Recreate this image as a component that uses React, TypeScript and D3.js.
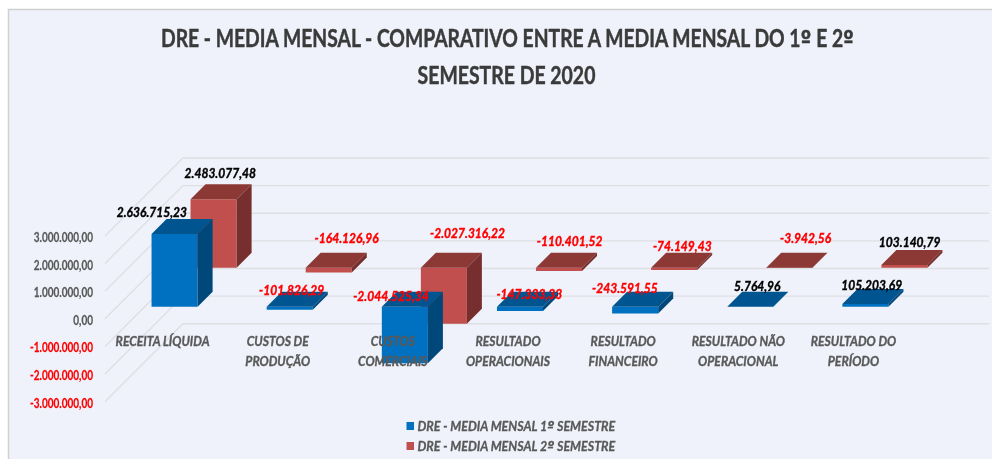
import React from "react";
import * as d3 from "d3";

const categories = [
  ["RECEITA LÍQUIDA"],
  ["CUSTOS DE", "PRODUÇÃO"],
  ["CUSTOS", "COMERCIAIS"],
  ["RESULTADO", "OPERACIONAIS"],
  ["RESULTADO", "FINANCEIRO"],
  ["RESULTADO NÃO", "OPERACIONAL"],
  ["RESULTADO DO", "PERÍODO"],
];
const seriesNames = ["DRE - MEDIA MENSAL 1º SEMESTRE", "DRE - MEDIA MENSAL 2º SEMESTRE"];
const semester1 = [2636715.23, -101826.29, -2044525.34, -147333.33, -243591.55, 5764.96, 105203.69];
const semester2 = [2483077.48, -164126.96, -2027316.22, -110401.52, -74149.43, -3942.56, 103140.79];
const yTicks = [3000000, 2000000, 1000000, 0, -1000000, -2000000, -3000000];
const titleLines = ["DRE - MEDIA MENSAL - COMPARATIVO ENTRE A MEDIA MENSAL DO 1º E 2º", "SEMESTRE DE 2020"];

// hand-placed data label nudges (as in the original chart)
const nudge1 = [[-22.7, -22.3], [1.9, -17.4], [-13.9, -11], [9.3, -13], [-10.2, -19.7], [7, -21.5], [6.3, -19.8]];
const nudge2 = [[6.7, -26.3], [17.9, -30.3], [23.7, -35.3], [10.6, -27.3], [8.1, -22.6], [16.3, -30.3], [5.2, -23.2]];

const palette = [
  { front: "#0070C0", top: "#005590", side: "#00467A" },
  { front: "#C0504D", top: "#8C3836", side: "#772F2D" },
];

const pt = d3.formatLocale({ decimal: ",", thousands: ".", grouping: [3], currency: ["R$", ""], minus: "-" });
const fmt = pt.format(",.2f");
const FONT = "Lato, 'Open Sans', sans-serif";

const W = 992, H = 459;
const plotLeft = 105, depth = 78;
const x = d3.scaleBand<number>().domain(d3.range(categories.length)).range([plotLeft, plotLeft + 806]).paddingInner(0.6).paddingOuter(0.3);
const y = d3.scaleLinear().domain([-3000000, 3000000]).range([401.7, 236]);
const z = d3.scaleBand<number>().domain([0, 1]).range([0, depth]).paddingInner(24 / 39).paddingOuter(12 / 39);

// the ordinal sign keeps its underline: Lato would draw it as a plain degree mark
function Ordinals({ text }: { text: string }) {
  return (
    <>
      {text.split(/(º)/).map((part, i) =>
        part === "º" ? <tspan key={i} fontFamily="'DejaVu Sans'">º</tspan> : <tspan key={i}>{part}</tspan>
      )}
    </>
  );
}

function Txt({ x: tx, y: ty, sx, size, fill, italic, weight = 0.25, anchor = "middle", children }: any) {
  return (
    <text transform={`translate(${tx},${ty}) scale(${sx},1)`} textAnchor={anchor} dominantBaseline="central"
      fontFamily={FONT} fontWeight={700} fontStyle={italic ? "italic" : "normal"} fontSize={size} fill={fill}
      stroke={fill} strokeWidth={weight}>
      <Ordinals text={children} />
    </text>
  );
}

function Bar({ i, s, v }: { i: number; s: number; v: number }) {
  const d0 = z(s)!, d = z.bandwidth();
  const x0 = x(i)! + d0, w = x.bandwidth();
  const yTop = y(Math.max(v, 0)) - d0, yBot = y(Math.min(v, 0)) - d0;
  const c = palette[s];
  const p = (pts: number[][]) => pts.map((q) => q.join(",")).join(" ");
  return (
    <g>
      <polygon fill={c.front} points={p([[x0, yTop], [x0 + w, yTop], [x0 + w, yBot], [x0, yBot]])} />
      <polygon fill={c.top} points={p([[x0, yTop], [x0 + w, yTop], [x0 + w + d, yTop - d], [x0 + d, yTop - d]])} />
      <polygon fill={c.side} points={p([[x0 + w, yTop], [x0 + w + d, yTop - d], [x0 + w + d, yBot - d], [x0 + w, yBot]])} />
    </g>
  );
}

export default function App() {
  const series = [semester1, semester2];
  const nudges = [nudge1, nudge2];
  return (
    <svg width={W} height={H} viewBox={`0 0 ${W} ${H}`} style={{ position: "absolute", left: 0, top: 0 }}>
      <defs>
        <filter id="soft" x="0" y="0" width="100%" height="100%"><feGaussianBlur stdDeviation="0.35" /></filter>
      </defs>
      <rect width={W} height={H} fill="#fff" />
      <rect x={8.5} y={9.5} width={W} height={H} fill="#EFF2FA" stroke="#D0D0D0" strokeWidth={1.5} />
      <g filter="url(#soft)">
        {titleLines.map((t, i) => (
          <Txt key={t} x={i ? 506.5 : 507.5} y={38.5 + i * 36} sx={i ? 0.81 : 0.805} size={24} fill="#3A3A3A" weight={0.45}>{t}</Txt>
        ))}
        {yTicks.map((t) => (
          <g key={t} stroke="#DEDFE3" strokeWidth={1.4} fill="none">
            <path d={`M${plotLeft},${y(t)}L${plotLeft + depth},${y(t) - depth}H${plotLeft + depth + 806}`} />
          </g>
        ))}
        {yTicks.map((t) => (
          <Txt key={t} x={93} y={y(t) + 0.5} sx={0.8} size={12.5} anchor="end" fill={t < 0 ? "#FF0000" : "#595959"}>{fmt(t)}</Txt>
        ))}
        {[1, 0].map((s) => series[s].map((v, i) => <Bar key={`${s}-${i}`} i={i} s={s} v={v} />))}
        {categories.map((lines, i) =>
          lines.map((l, j) => (
            <Txt key={l + i} x={x(i)! + x.bandwidth() / 2} y={340.5 + j * 20} sx={0.87} size={14} fill="#595959" italic weight={0.35}>{l}</Txt>
          ))
        )}
        {[0, 1].map((s) => series[s].map((v, i) => (
          <Txt key={`l${s}-${i}`} x={x(i)! + z(s)! + x.bandwidth() / 2 + nudges[s][i][0]} y={y(Math.max(v, 0)) - z(s)! + nudges[s][i][1]}
            sx={0.86} size={14} fill={v < 0 ? "#FF0000" : "#000"} italic weight={0.4}>{fmt(v)}</Txt>
        )))}
        {seriesNames.map((n, i) => (
          <g key={n}>
            <rect x={406.5} y={422 + i * 20} width={7.5} height={8} fill={palette[i].front} />
            <Txt x={417.5} y={426 + i * 20} sx={0.89} size={14} fill="#595959" italic anchor="start" weight={0.3}>{n}</Txt>
          </g>
        ))}
      </g>
    </svg>
  );
}
